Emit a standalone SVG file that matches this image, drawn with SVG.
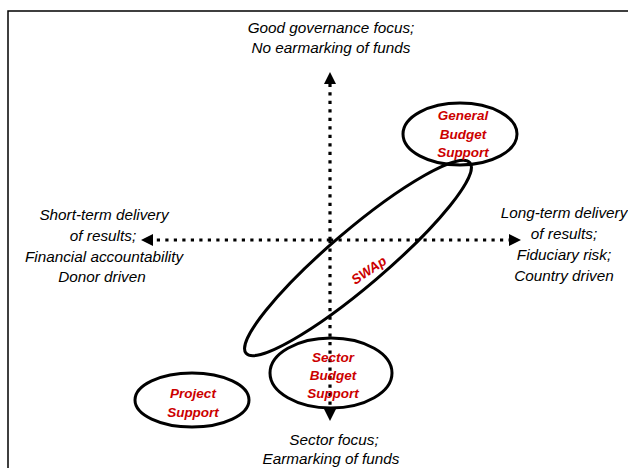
<svg xmlns="http://www.w3.org/2000/svg" width="628" height="468" viewBox="0 0 628 468">
<defs>
<style>
.lbl{font-family:"Liberation Sans",Arial,sans-serif;font-size:15.3px;font-style:italic;fill:#000;text-anchor:middle}
.red{font-family:"Liberation Sans",Arial,sans-serif;font-size:13.5px;font-style:italic;font-weight:bold;fill:#cc0000;text-anchor:middle}
.ell{fill:none;stroke:#000;stroke-width:3}
.axis{fill:none;stroke:#000;stroke-width:3.2;stroke-dasharray:3.2 5.3}
</style>
<marker id="arr" markerUnits="userSpaceOnUse" markerWidth="14" markerHeight="14" refX="1" refY="6" orient="auto">
<path d="M0,0 L12,6 L0,12 Z" fill="#000"/>
</marker>
</defs>
<rect width="628" height="468" fill="#fff"/>
<g id="frame">
<path d="M8,468 L8,11 L628,11" fill="none" stroke="#000" stroke-width="1.5"/>
</g>
<g id="connectors">
<path class="axis" d="M330,240 L330,83" marker-end="url(#arr)"/>
<path class="axis" d="M330,240 L330,410" marker-end="url(#arr)"/>
<path class="axis" d="M330,240 L152,240" marker-end="url(#arr)"/>
<path class="axis" d="M330,240 L510,240" marker-end="url(#arr)"/>
</g>
<g id="label-top">
<text class="lbl" x="331" y="33">Good governance focus;</text>
<text class="lbl" x="331" y="53">No earmarking of funds</text>
</g>
<g id="label-left">
<text class="lbl" x="104" y="220">Short-term delivery</text>
<text class="lbl" x="103" y="241">of results;</text>
<text class="lbl" x="104" y="262">Financial accountability</text>
<text class="lbl" x="102" y="282">Donor driven</text>
</g>
<g id="label-right">
<text class="lbl" x="564" y="218">Long-term delivery</text>
<text class="lbl" x="564" y="239">of results;</text>
<text class="lbl" x="564" y="260">Fiduciary risk;</text>
<text class="lbl" x="564" y="281">Country driven</text>
</g>
<g id="label-bottom">
<text class="lbl" x="334" y="445">Sector focus;</text>
<text class="lbl" x="331" y="464">Earmarking of funds</text>
</g>
<g id="swap">
<ellipse class="ell" cx="358" cy="258" rx="147" ry="28" transform="rotate(-40.4 358 258)"/>
<text class="red" x="368" y="275" font-size="16" font-style="normal" transform="rotate(-34 368 269)">SWAp</text>
</g>
<g id="general-budget-support">
<ellipse class="ell" cx="460" cy="134" rx="57" ry="31"/>
<text class="red" x="463" y="120">General</text>
<text class="red" x="463" y="139">Budget</text>
<text class="red" x="463" y="157">Support</text>
</g>
<g id="sector-budget-support">
<ellipse class="ell" cx="331" cy="373" rx="61" ry="35"/>
<text class="red" x="333" y="362">Sector</text>
<text class="red" x="333" y="380">Budget</text>
<text class="red" x="333" y="398">Support</text>
</g>
<g id="project-support">
<ellipse class="ell" cx="192" cy="400" rx="57" ry="27"/>
<text class="red" x="193" y="398">Project</text>
<text class="red" x="193" y="417">Support</text>
</g>
</svg>
